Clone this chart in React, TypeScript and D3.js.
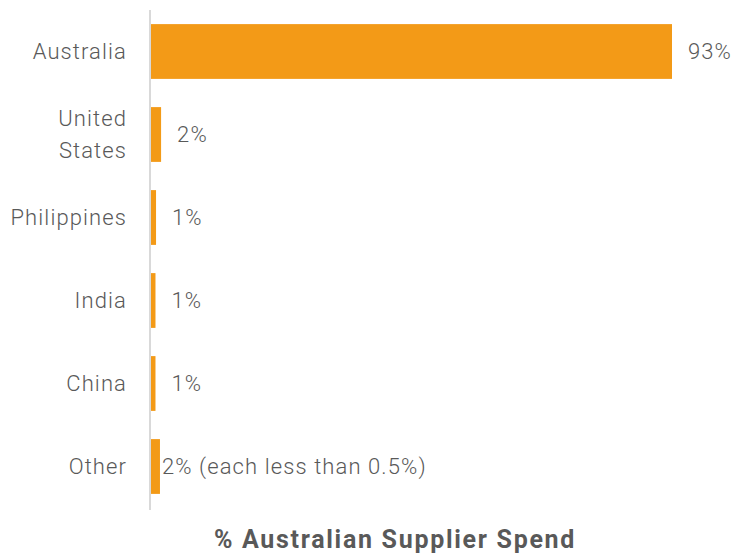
import { useEffect, useRef } from 'react';
import * as d3 from 'd3';

const categories = ['Australia', 'United States', 'Philippines', 'India', 'China', 'Other'];
const values = [93, 1.8, 0.9, 0.8, 0.8, 1.6];
const valueLabels = ['93%', '2%', '1%', '1%', '1%', '2% (each less than 0.5%)'];
const categoryLines = [['Australia'], ['United', 'States'], ['Philippines'], ['India'], ['China'], ['Other']];
const title = '% Australian Supplier Spend';

const FONT = 'Roboto, "Noto Sans", sans-serif';
const TEXT = '#595959';
const BAR = '#F39A17';

export default function App() {
  const ref = useRef<SVGSVGElement | null>(null);

  useEffect(() => {
    if (!ref.current) return;
    const svg = d3.select(ref.current);
    svg.selectAll('*').remove();

    const height = 553;
    const margin = { top: 10, left: 151, bottom: 45 };

    const x = d3.scaleLinear().domain([0, 93]).range([margin.left, 672]);
    const y = d3
      .scaleBand<string>()
      .domain(categories)
      .range([margin.top, height - margin.bottom])
      .paddingInner(0.34)
      .paddingOuter(0.17);

    const rows = categories.map((c, i) => ({ c, v: values[i], label: valueLabels[i], lines: categoryLines[i] }));

    // bars
    svg
      .append('g')
      .selectAll('rect')
      .data(rows)
      .enter()
      .append('rect')
      .attr('x', x(0))
      .attr('y', (d) => y(d.c) as number)
      .attr('width', (d) => x(d.v) - x(0))
      .attr('height', y.bandwidth())
      .attr('fill', BAR);

    // vertical axis line
    svg
      .append('line')
      .attr('x1', x(0) - 1)
      .attr('x2', x(0) - 1)
      .attr('y1', margin.top)
      .attr('y2', height - margin.bottom + 2)
      .attr('stroke', '#d9d9d9')
      .attr('stroke-width', 2);

    // category labels
    const cat = svg
      .append('g')
      .selectAll('text')
      .data(rows)
      .enter()
      .append('text')
      .attr('text-anchor', 'end')
      .attr('font-family', FONT)
      .attr('font-size', 22)
      .attr('font-weight', 300)
      .attr('letter-spacing', 1.1)
      .attr('fill', TEXT)
      .attr('y', (d) => (y(d.c) as number) + y.bandwidth() / 2);

    cat.each(function (d) {
      const t = d3.select(this);
      const n = d.lines.length;
      d.lines.forEach((line, j) => {
        t.append('tspan')
          .attr('x', 127)
          .attr('dy', j === 0 ? `${0.35 - ((n - 1) * 1.45) / 2}em` : '1.45em')
          .text(line);
      });
    });

    // value labels
    svg
      .append('g')
      .selectAll('text')
      .data(rows)
      .enter()
      .append('text')
      .attr('x', (d, i) => x(d.v) + (i === rows.length - 1 ? 2 : 16))
      .attr('y', (d) => (y(d.c) as number) + y.bandwidth() / 2)
      .attr('dy', '0.35em')
      .attr('font-family', FONT)
      .attr('font-size', 22)
      .attr('font-weight', 300)
      .attr('letter-spacing', 1.1)
      .attr('fill', TEXT)
      .text((d) => d.label);

    // axis title
    svg
      .append('text')
      .attr('x', 395)
      .attr('y', 548)
      .attr('text-anchor', 'middle')
      .attr('font-family', FONT)
      .attr('font-size', 25)
      .attr('font-weight', 'bold')
      .attr('letter-spacing', 1.7)
      .attr('fill', TEXT)
      .text(title);
  }, []);

  return (
    <svg
      ref={ref}
      width={733}
      height={553}
      style={{ position: 'absolute', left: 0, top: 0, background: '#fff' }}
    />
  );
}
